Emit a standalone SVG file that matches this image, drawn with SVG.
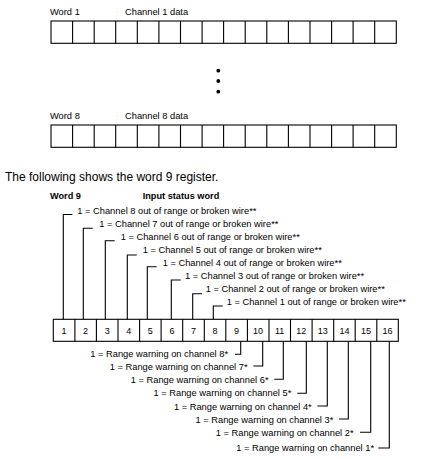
<svg xmlns="http://www.w3.org/2000/svg" width="439" height="459" viewBox="0 0 439 459">
<style>
text{font-family:"Liberation Sans",Arial,sans-serif;fill:#000}
.s{font-size:9.3px}
.b{font-size:9.2px;font-weight:bold}
.t{font-size:12px}
.n{font-size:9px;text-anchor:middle}
.e{text-anchor:end}
.box{fill:#fff;stroke:#000;stroke-width:1.1}
.cl{stroke:#000;stroke-width:1.1;fill:none}
.ln{stroke:#000;stroke-width:1.1;fill:none}
</style>
<rect width="439" height="459" fill="#fff"/>
<g id="word1">
<text class="s" x="50" y="15">Word 1</text>
<text class="s" x="125" y="15">Channel 1 data</text>
<rect class="box" x="51" y="21" width="345.3" height="22.3"/>
<path class="cl" d="M72.6,21v22.3M94.2,21v22.3M115.7,21v22.3M137.3,21v22.3M158.9,21v22.3M180.5,21v22.3M202.1,21v22.3M223.6,21v22.3M245.2,21v22.3M266.8,21v22.3M288.4,21v22.3M310,21v22.3M331.6,21v22.3M353.1,21v22.3M374.7,21v22.3"/>
</g>
<g id="dots">
<circle cx="218.3" cy="70.7" r="1.9"/>
<circle cx="218.3" cy="81" r="1.9"/>
<circle cx="218.3" cy="91.7" r="1.9"/>
</g>
<g id="word8">
<text class="s" x="50" y="119">Word 8</text>
<text class="s" x="125" y="119">Channel 8 data</text>
<rect class="box" x="51" y="125" width="345.3" height="22.3"/>
<path class="cl" d="M72.6,125v22.3M94.2,125v22.3M115.7,125v22.3M137.3,125v22.3M158.9,125v22.3M180.5,125v22.3M202.1,125v22.3M223.6,125v22.3M245.2,125v22.3M266.8,125v22.3M288.4,125v22.3M310,125v22.3M331.6,125v22.3M353.1,125v22.3M374.7,125v22.3"/>
</g>
<g id="intro">
<text class="t" x="5" y="181">The following shows the word 9 register.</text>
</g>
<g id="word9">
<text class="b" x="50" y="199">Word 9</text>
<text class="b" x="142.7" y="199">Input status word</text>
<rect class="box" x="53.3" y="319.3" width="345" height="22"/>
<path class="cl" d="M74.9,319.3v22M96.4,319.3v22M118,319.3v22M139.6,319.3v22M161.1,319.3v22M182.7,319.3v22M204.3,319.3v22M225.8,319.3v22M247.4,319.3v22M269,319.3v22M290.5,319.3v22M312.1,319.3v22M333.7,319.3v22M355.2,319.3v22M376.8,319.3v22"/>
<text class="n" x="64.1" y="333.5">1</text>
<text class="n" x="85.6" y="333.5">2</text>
<text class="n" x="107.2" y="333.5">3</text>
<text class="n" x="128.8" y="333.5">4</text>
<text class="n" x="150.3" y="333.5">5</text>
<text class="n" x="171.9" y="333.5">6</text>
<text class="n" x="193.5" y="333.5">7</text>
<text class="n" x="215" y="333.5">8</text>
<text class="n" x="236.6" y="333.5">9</text>
<text class="n" x="258.1" y="333.5">10</text>
<text class="n" x="279.7" y="333.5">11</text>
<text class="n" x="301.3" y="333.5">12</text>
<text class="n" x="322.8" y="333.5">13</text>
<text class="n" x="344.4" y="333.5">14</text>
<text class="n" x="365.9" y="333.5">15</text>
<text class="n" x="387.5" y="333.5">16</text>
</g>
<g id="status-labels">
<text class="s" x="77.3" y="214.3">1 = Channel 8 out of range or broken wire**</text>
<text class="s" x="99.3" y="227.3">1 = Channel 7 out of range or broken wire**</text>
<text class="s" x="120.7" y="240">1 = Channel 6 out of range or broken wire**</text>
<text class="s" x="142.7" y="253.3">1 = Channel 5 out of range or broken wire**</text>
<text class="s" x="162.7" y="266">1 = Channel 4 out of range or broken wire**</text>
<text class="s" x="185" y="279.3">1 = Channel 3 out of range or broken wire**</text>
<text class="s" x="205.7" y="292">1 = Channel 2 out of range or broken wire**</text>
<text class="s" x="226.7" y="305">1 = Channel 1 out of range or broken wire**</text>
<text class="s e" x="228" y="357">1 = Range warning on channel 8*</text>
<text class="s e" x="247.5" y="369.5">1 = Range warning on channel 7*</text>
<text class="s e" x="268.5" y="383">1 = Range warning on channel 6*</text>
<text class="s e" x="291.3" y="396.3">1 = Range warning on channel 5*</text>
<text class="s e" x="311.7" y="409.5">1 = Range warning on channel 4*</text>
<text class="s e" x="333.3" y="422.5">1 = Range warning on channel 3*</text>
<text class="s e" x="353.5" y="435.5">1 = Range warning on channel 2*</text>
<text class="s e" x="374" y="450.5">1 = Range warning on channel 1*</text>
</g>
<g id="connectors">
<polyline class="ln" points="63.3,319.3 63.3,214.5 72.3,214.5"/>
<polyline class="ln" points="83.3,319.3 83.3,228.3 92.7,228.3"/>
<polyline class="ln" points="105.3,319.3 105.3,240.7 114.7,240.7"/>
<polyline class="ln" points="127.3,319.3 127.3,255 136.7,255"/>
<polyline class="ln" points="147.3,319.3 147.3,266.7 156.7,266.7"/>
<polyline class="ln" points="171.3,319.3 171.3,280 180.7,280"/>
<polyline class="ln" points="192.7,319.3 192.7,293.7 202,293.7"/>
<polyline class="ln" points="213.3,319.3 213.3,306 222.7,306"/>
<polyline class="ln" points="240.7,341.3 240.7,354.3 235,354.3"/>
<polyline class="ln" points="262.7,341.3 262.7,366 253.3,366"/>
<polyline class="ln" points="283.3,341.3 283.3,379.3 274.3,379.3"/>
<polyline class="ln" points="306.3,341.3 306.3,393.3 297.3,393.3"/>
<polyline class="ln" points="327.3,341.3 327.3,406 317.3,406"/>
<polyline class="ln" points="348.3,341.3 348.3,419 339,419"/>
<polyline class="ln" points="370.7,341.3 370.7,432.3 360,432.3"/>
<polyline class="ln" points="389.3,341.3 389.3,448 378.3,448"/>
</g>
</svg>
